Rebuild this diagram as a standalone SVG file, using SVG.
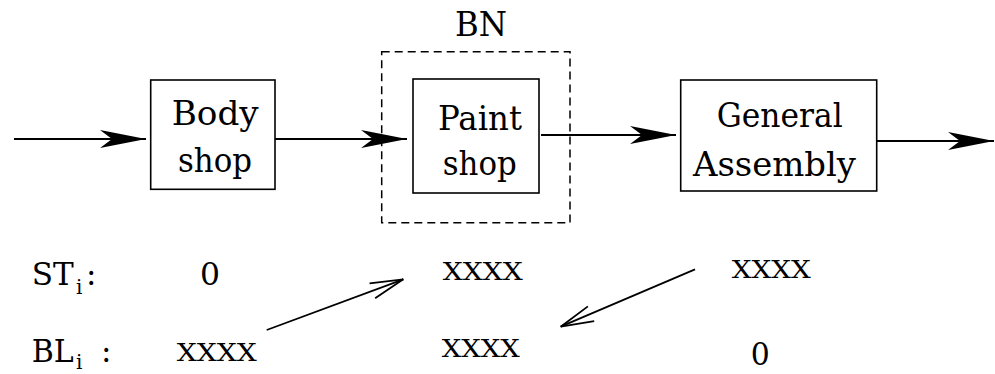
<svg xmlns="http://www.w3.org/2000/svg" width="995" height="374" viewBox="0 0 995 374">
  <style>
    text { font-family: "DejaVu Serif", "Liberation Serif", "Times New Roman", serif; fill: #000; }
    .lbl { font-size: 33px; }
    .row { font-size: 31px; }
    .val { font-size: 25px; }
    .sub { font-size: 20px; }
    .box { fill: #fff; stroke: #000; stroke-width: 1.6; }
    .flow { fill: none; stroke: #000; stroke-width: 2.2; marker-end: url(#solid); }
    .link { fill: none; stroke: #000; stroke-width: 1.8; marker-end: url(#open); }
  </style>
  <defs>
    <!-- barbed filled head for the material flow -->
    <marker id="solid" markerUnits="userSpaceOnUse" viewBox="-46 -10 47 20" refX="0" refY="0" markerWidth="47" markerHeight="20" orient="auto" overflow="visible">
      <path d="M0,0 L-46,-9 L-34,0 L-46,9 Z" fill="#000"/>
    </marker>
    <!-- open two-stroke head for the value links -->
    <marker id="open" markerUnits="userSpaceOnUse" viewBox="-36 -10 38 20" refX="0" refY="0" markerWidth="38" markerHeight="20" orient="auto" overflow="visible">
      <path d="M-33,-8 L0,0 L-33,8" fill="none" stroke="#000" stroke-width="1.8"/>
    </marker>
  </defs>

  <rect width="995" height="374" fill="#fff"/>

  <!-- bottleneck frame -->
  <g id="bn">
    <rect x="381.7" y="51.7" width="188.3" height="171" fill="none" stroke="#000" stroke-width="1.5" stroke-dasharray="8,5"/>
    <text class="lbl" x="455" y="36" textLength="52" lengthAdjust="spacingAndGlyphs">BN</text>
  </g>

  <g id="connectors">
    <line class="flow" x1="14" y1="139" x2="146" y2="139"/>
    <line class="flow" x1="275" y1="139" x2="407" y2="139"/>
    <line class="flow" x1="541" y1="135" x2="676" y2="135"/>
    <line class="flow" x1="876" y1="141" x2="994" y2="141"/>
    <line class="link" x1="266.7" y1="330" x2="403.3" y2="279.3"/>
    <line class="link" x1="695" y1="269.3" x2="560.7" y2="326.7"/>
  </g>

  <g id="body-shop">
    <rect class="box" x="150.7" y="80" width="124.3" height="109.3"/>
    <text class="lbl" x="171.7" y="125" textLength="87" lengthAdjust="spacingAndGlyphs">Body</text>
    <text class="lbl" x="178" y="171.7" textLength="74" lengthAdjust="spacingAndGlyphs">shop</text>
  </g>

  <g id="paint-shop">
    <rect class="box" x="413" y="79" width="126" height="114"/>
    <text class="lbl" x="438" y="130" textLength="84" lengthAdjust="spacingAndGlyphs">Paint</text>
    <text class="lbl" x="442.7" y="175" textLength="74" lengthAdjust="spacingAndGlyphs">shop</text>
  </g>

  <g id="general-assembly">
    <rect class="box" x="680.7" y="80" width="196" height="111"/>
    <text class="lbl" x="716.7" y="126.7" textLength="126" lengthAdjust="spacingAndGlyphs">General</text>
    <text class="lbl" x="693" y="176" textLength="163" lengthAdjust="spacingAndGlyphs">Assembly</text>
  </g>

  <!-- start times row -->
  <g id="row-st">
    <text class="row" x="31.7" y="285" textLength="42" lengthAdjust="spacingAndGlyphs">ST</text>
    <text class="sub" x="76" y="294">i</text>
    <text class="row" x="86" y="285">:</text>
    <text class="row" x="200" y="285" textLength="20" lengthAdjust="spacingAndGlyphs">0</text>
    <text class="val" x="442.7" y="280" textLength="80" lengthAdjust="spacingAndGlyphs">XXXX</text>
    <text class="val" x="731.7" y="278.3" textLength="79" lengthAdjust="spacingAndGlyphs">XXXX</text>
  </g>

  <!-- blocking row -->
  <g id="row-bl">
    <text class="row" x="31.7" y="361.7" textLength="42" lengthAdjust="spacingAndGlyphs">BL</text>
    <text class="sub" x="76" y="369">i</text>
    <text class="row" x="101" y="361.7">:</text>
    <text class="val" x="176.7" y="361" textLength="80" lengthAdjust="spacingAndGlyphs">XXXX</text>
    <text class="val" x="441.7" y="356.7" textLength="78" lengthAdjust="spacingAndGlyphs">XXXX</text>
    <text class="row" x="750.7" y="365" textLength="19" lengthAdjust="spacingAndGlyphs">0</text>
  </g>
</svg>
